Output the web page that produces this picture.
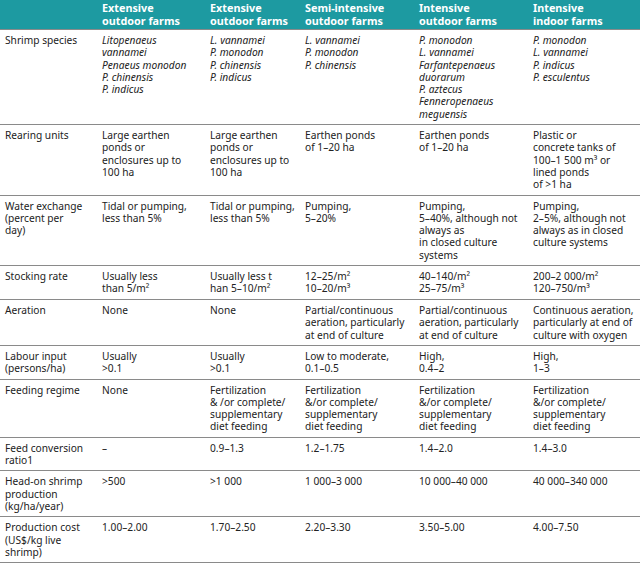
<!DOCTYPE html>
<html><head><meta charset="utf-8">
<script src="https://cdn.jsdelivr.net/npm/chart.js@4"></script>
<style>
body{margin:0;background:#fff;font-family:"Noto Sans",sans-serif;}
table{border-collapse:collapse;width:640px;table-layout:fixed;font-size:10.2px;line-height:12.3px;color:#222;}
th{background:#1d9aa1;color:#fff;text-align:left;font-weight:bold;font-size:10.8px;line-height:13px;padding:1px 2px 1px 5px;height:27px;vertical-align:top;}
td{vertical-align:top;padding:4px 1px 4px 5px;border-top:1px solid #8a8a8a;white-space:nowrap;overflow:hidden;}
tr:last-child td{border-bottom:1px solid #8a8a8a;}
i{font-style:italic;}
</style></head><body>
<table id="tbl">
<colgroup><col style="width:97px"><col style="width:108px"><col style="width:95px"><col style="width:114px"><col style="width:114px"><col style="width:112px"></colgroup>
<thead><tr id="head"></tr></thead><tbody id="body"></tbody>
</table>
<script>
document.addEventListener('DOMContentLoaded', () => {
    const headers = ['', 'Extensive<br>outdoor farms', 'Extensive<br>outdoor farms', 'Semi-intensive<br>outdoor farms', 'Intensive<br>outdoor farms', 'Intensive<br>indoor farms'];
    const rows = [
        [68, 'Shrimp species', '<i>Litopenaeus<br>vannamei<br>Penaeus monodon<br>P. chinensis<br>P. indicus</i>', '<i>L. vannamei<br>P. monodon<br>P. chinensis<br>P. indicus</i>', '<i>L. vannamei<br>P. monodon<br>P. chinensis</i>', '<i>P. monodon<br>L. vannamei<br>Farfantepenaeus<br>duorarum<br>P. aztecus<br>Fenneropenaeus<br>meguensis</i>', '<i>P. monodon<br>L. vannamei<br>P. indicus<br>P. esculentus</i>'],
        [68, 'Rearing units', 'Large earthen<br>ponds or<br>enclosures up to<br>100 ha', 'Large earthen<br>ponds or<br>enclosures up to<br>100 ha', 'Earthen ponds<br>of 1–20 ha', 'Earthen ponds<br>of 1–20 ha', 'Plastic or<br>concrete tanks of<br>100–1 500 m³ or<br>lined ponds<br>of &gt;1 ha'],
        [53, 'Water exchange<br>(percent per<br>day)', 'Tidal or pumping,<br>less than 5%', 'Tidal or pumping,<br>less than 5%', 'Pumping,<br>5–20%', 'Pumping,<br>5–40%, although not<br>always as<br>in closed culture<br>systems', 'Pumping,<br>2–5%, although not<br>always as in closed<br>culture systems'],
        [34, 'Stocking rate', 'Usually less<br>than 5/m²', 'Usually less t<br>han 5–10/m²', '12–25/m²<br>10–20/m³', '40–140/m²<br>25–75/m³', '200–2 000/m²<br>120–750/m³'],
        [37, 'Aeration', 'None', 'None', 'Partial/continuous<br>aeration, particularly<br>at end of culture', 'Partial/continuous<br>aeration, particularly<br>at end of culture', 'Continuous aeration,<br>particularly at end of<br>culture with oxygen'],
        [30, 'Labour input<br>(persons/ha)', 'Usually<br>&gt;0.1', 'Usually<br>&gt;0.1', 'Low to moderate,<br>0.1–0.5', 'High,<br>0.4–2', 'High,<br>1–3'],
        [49, 'Feeding regime', 'None', 'Fertilization<br>&amp; /or complete/<br>supplementary<br>diet feeding', 'Fertilization<br>&amp;/or complete/<br>supplementary<br>diet feeding', 'Fertilization<br>&amp;/or complete/<br>supplementary<br>diet feeding', 'Fertilization<br>&amp;/or complete/<br>supplementary<br>diet feeding'],
        [27, 'Feed conversion<br>ratio1', '–', '0.9–1.3', '1.2–1.75', '1.4–2.0', '1.4–3.0'],
        [33, 'Head-on shrimp<br>production<br>(kg/ha/year)', '&gt;500', '&gt;1 000', '1 000–3 000', '10 000–40 000', '40 000–340 000'],
        [38, 'Production cost<br>(US$/kg live<br>shrimp)', '1.00–2.00', '1.70–2.50', '2.20–3.30', '3.50–5.00', '4.00–7.50']
    ];
    document.getElementById('head').innerHTML = headers.map(h => '<th>' + h + '</th>').join('');
    document.getElementById('body').innerHTML = rows.map(r =>
        '<tr style="height:' + r[0] + 'px">' + r.slice(1).map(c => '<td>' + c + '</td>').join('') + '</tr>').join('');
});
</script>
</body></html>
